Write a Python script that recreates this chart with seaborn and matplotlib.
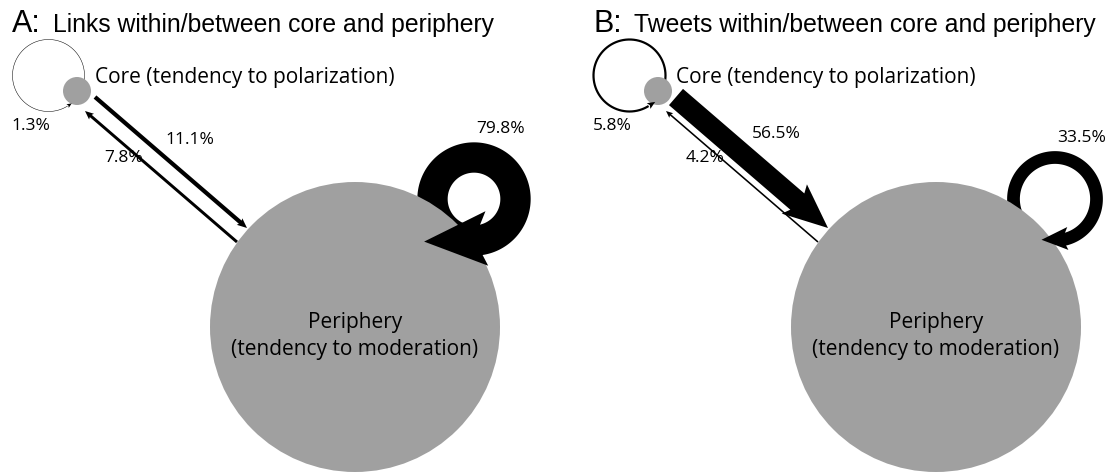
import numpy as np
import matplotlib
matplotlib.use("Agg")
import matplotlib.pyplot as plt
from matplotlib.patches import Circle, Polygon
import seaborn as sns

# shares of links (A) and tweets (B), in percent
panels = ["A", "B"]
titles = ["Links within/between core and periphery",
          "Tweets within/between core and periphery"]
core_self = [1.3, 5.8]
core_to_periphery = [11.1, 56.5]
periphery_to_core = [7.8, 4.2]
periphery_self = [79.8, 33.5]
core_label = "Core (tendency to polarization)"
periphery_label = ["Periphery", "(tendency to moderation)"]

sns.set_theme(style="white")
plt.rcParams["font.family"] = ["Open Sans", "DejaVu Sans"]
plt.rcParams["text.color"] = "black"
title_font = ["Liberation Sans", "DejaVu Sans"]

node_gray = "#a0a0a0"
PX_PER_PCT = 0.38   # arrow width in pixels per percent
PT = 0.72           # points per pixel at dpi 100


def width_of(p):
    return max(0.5, PX_PER_PCT * p)


def head_of(w):
    hw = max(1.8 * w, 2 + 3.2 * np.sqrt(w))
    hl = max(1.7 * w, 1.15 * hw)
    return hw, hl


def unit(v):
    v = np.asarray(v, float)
    return v / np.linalg.norm(v)


def head_poly(base, d, hl, hw, notch=0.2):
    d = unit(d)
    n = np.array([-d[1], d[0]])
    return np.array([base + hl * d, base + hw / 2 * n,
                     base + notch * hl * d, base - hw / 2 * n])


def straight_arrow(ax, start, tip, w, z=3):
    start, tip = np.asarray(start, float), np.asarray(tip, float)
    hw, hl = head_of(w)
    d = unit(tip - start)
    n = np.array([-d[1], d[0]])
    base = tip - hl * d
    joint = base + 0.2 * hl * (1 - w / hw) * d
    pts = [start + w / 2 * n, joint + w / 2 * n, base + hw / 2 * n, tip,
           base - hw / 2 * n, joint - w / 2 * n, start - w / 2 * n]
    ax.add_patch(Polygon(pts, closed=True, fc="black", ec="none", zorder=z))


def arc(c, r, a0, a1, n=300):
    a = np.radians(np.linspace(a0, a1, n))
    return np.column_stack([c[0] + r * np.cos(a), c[1] + r * np.sin(a)])


fig, ax = plt.subplots(figsize=(11.08, 4.74), dpi=100)
fig.subplots_adjust(left=0, right=1, bottom=0, top=1)
ax.set_xlim(0, 1108)
ax.set_ylim(474, 0)
ax.axis("off")

for i, name in enumerate(panels):
    shift = 581 * i
    core = np.array([77.0 + shift, 91.0])
    periph = np.array([355.0 + shift, 327.0])
    core_r, periph_r = 14, 145

    # title
    ax.text(12 + shift, 32, name + ":", fontsize=22, family=title_font, va="baseline")
    ax.text(53 + shift, 32, titles[i], fontsize=17.8, family=title_font, va="baseline")

    # core self loop
    w = width_of(core_self[i])
    hw, hl = head_of(w)
    lc = core + np.array([-28.5, -15.5])
    lr = 36
    end = -302
    pts = arc(lc, lr, 8, end)
    ax.plot(pts[:, 0], pts[:, 1], color="black", lw=w * PT,
            solid_capstyle="butt", zorder=1.5)
    phi = np.radians(end)
    base = pts[-1]
    ax.add_patch(Polygon(head_poly(base, [np.sin(phi), -np.cos(phi)], hl, hw),
                         fc="black", ec="none", zorder=3))
    ax.text(*(core + [-46, 35]), f"{core_self[i]:.1f}%", fontsize=12.5,
            ha="center", va="center")

    # periphery self loop
    w = width_of(periphery_self[i])
    hw, hl = head_of(w)
    rc = periph + np.array([119, -128])
    R = 41.5
    end = 72
    ext = np.degrees(0.25 * hl / R)
    outer = arc(rc, R + w / 2, 110, end + 360 + ext)
    inner = arc(rc, R - w / 2, end + 360 + ext, 110)
    ax.add_patch(Polygon(np.vstack([outer, inner]), fc="black", ec="none", zorder=1))
    base = rc + R * np.array([np.cos(np.radians(end)), np.sin(np.radians(end))])
    ax.add_patch(Polygon(head_poly(base, [-1, 0.05], hl, hw),
                         fc="black", ec="none", zorder=3))
    ax.text(rc[0] + 27, rc[1] - R - w / 2 - 13.5, f"{periphery_self[i]:.1f}%",
            fontsize=12.5, ha="center", va="center")

    # core -> periphery
    w = width_of(core_to_periphery[i])
    start, tip = core + [18, 6], core + [170, 137]
    straight_arrow(ax, start, tip, w)
    d = unit(tip - start)
    n = np.array([d[1], -d[0]])
    ax.text(*(start + 100 * d + (27 + w / 2) * n), f"{core_to_periphery[i]:.1f}%",
            fontsize=12.5, ha="center", va="center")

    # periphery -> core
    w = width_of(periphery_to_core[i])
    start, tip = core + [160, 151], core + [8, 20]
    straight_arrow(ax, start, tip, w)
    u = unit(start - tip)
    n = np.array([u[1], -u[0]])
    ax.text(*(tip + 60 * u - 10 * n), f"{periphery_to_core[i]:.1f}%",
            fontsize=12.5, ha="center", va="center")

    # nodes
    ax.add_patch(Circle(periph, periph_r, fc=node_gray, ec="none", zorder=2))
    ax.add_patch(Circle(core, core_r, fc=node_gray, ec="none", zorder=2))
    ax.text(core[0] + 18, 83, core_label, fontsize=15, va="baseline")
    ax.text(periph[0], periph[1] + 1, periphery_label[0], fontsize=15,
            ha="center", va="baseline")
    ax.text(periph[0], periph[1] + 28, periphery_label[1], fontsize=15,
            ha="center", va="baseline")

fig.savefig("out.png", dpi=100)
